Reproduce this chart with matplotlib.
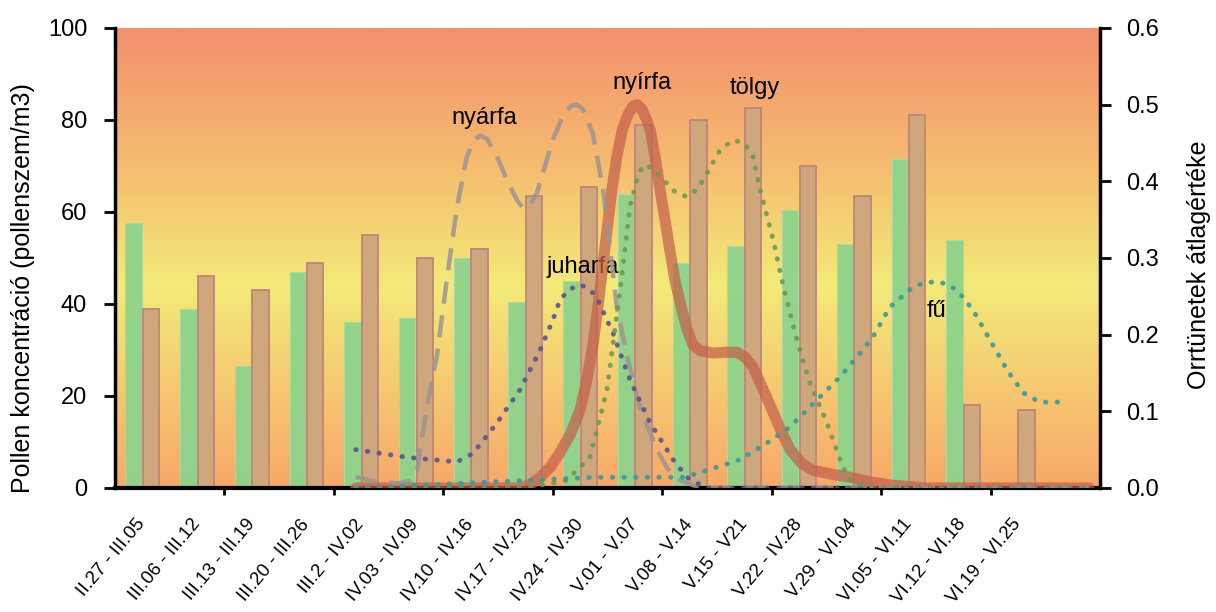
import numpy as np
import matplotlib
matplotlib.use("Agg")
import matplotlib.pyplot as plt
from matplotlib.colors import LinearSegmentedColormap

plt.rcParams['font.family'] = ['Liberation Sans', 'DejaVu Sans']

# ---------------- data ----------------
categories = ["II.27 - III.05", "III.06 - III.12", "III.13 - III.19", "III.20 - III.26",
              "III.2 - IV.02", "IV.03 - IV.09", "IV.10 - IV.16", "IV.17 - IV.23",
              "IV.24 - IV.30", "V.01 - V.07", "V.08 - V.14", "V.15 - V21",
              "V.22 - IV.28", "V.29 - VI.04", "VI.05 - VI.11", "VI.12 - VI.18",
              "VI.19 - VI.25"]
pollen_green = [57.5, 39, 26.5, 47, 36, 37, 50, 40.5, 45, 64, 49, 52.5, 60.5, 53, 71.5, 54, 0]
pollen_tan = [39, 46, 43, 49, 55, 50, 52, 63.5, 65.5, 79, 80, 82.5, 70, 63.5, 81, 18, 17]

left_ticks = [0, 20, 40, 60, 80, 100]
right_ticks = [0.0, 0.1, 0.2, 0.3, 0.4, 0.5, 0.6]

# symptom curves (x in category units, y on right axis)
nyarfa_x = [3.9, 4.3, 4.7, 4.9, 5.02, 5.2, 5.38, 5.57, 5.75, 5.93, 6.05, 6.17, 6.3, 6.48,
            6.72, 6.85, 6.96, 7.08, 7.21, 7.5, 7.7, 7.85, 7.94, 8.05, 8.23, 8.42, 8.55,
            8.67, 8.86, 9.09, 9.4, 9.6, 9.83, 10.2, 17.3]
nyarfa_y = [0.014, 0.008, 0.006, 0.01, 0.023, 0.106, 0.171, 0.275, 0.367, 0.432, 0.452,
            0.46, 0.455, 0.432, 0.393, 0.375, 0.365, 0.368, 0.385, 0.454, 0.488, 0.499,
            0.50, 0.494, 0.463, 0.389, 0.31, 0.236, 0.171, 0.106, 0.05, 0.025, 0.01, 0.0, 0.0]

juharfa_x = [3.9, 4.84, 5.75, 6.04, 6.48, 6.9, 7.27, 7.5, 7.63, 7.8, 8.0, 8.15, 8.3, 8.6,
             8.91, 9.28, 9.7, 9.95, 10.3, 17.3]
juharfa_y = [0.05, 0.04, 0.034, 0.045, 0.085, 0.128, 0.18, 0.219, 0.245, 0.259, 0.265,
             0.261, 0.249, 0.202, 0.141, 0.085, 0.037, 0.014, 0.0, 0.0]

nyirfa_x = [3.9, 6.9, 7.1, 7.27, 7.45, 7.63, 7.82, 8.0, 8.12, 8.24, 8.33, 8.42, 8.5, 8.58,
            8.67, 8.77, 8.88, 8.97, 9.04, 9.12, 9.2, 9.28, 9.37, 9.46, 9.55, 9.64, 9.73,
            9.83, 9.95, 10.06, 10.2, 10.43, 10.65, 10.87, 11.02, 11.16, 11.29, 11.41,
            11.53, 11.68, 11.84, 12.05, 12.26, 12.6, 12.93, 13.3, 13.66, 14.3, 17.3]
nyirfa_y = [0.0, 0.0, 0.005, 0.014, 0.027, 0.046, 0.07, 0.102, 0.14, 0.189, 0.24, 0.293,
            0.342, 0.389, 0.432, 0.467, 0.488, 0.498, 0.50, 0.495, 0.483, 0.467, 0.432,
            0.389, 0.35, 0.31, 0.272, 0.241, 0.207, 0.187, 0.179, 0.176, 0.177, 0.177,
            0.17, 0.158, 0.137, 0.118, 0.098, 0.073, 0.05, 0.032, 0.023, 0.018, 0.014,
            0.008, 0.004, 0.0, 0.0]

tolgy_x = [3.9, 7.0, 7.75, 8.18, 8.49, 8.73, 8.91, 9.05, 9.15, 9.3, 9.52, 9.75, 9.95, 10.15,
           10.32, 10.55, 10.79, 11.0, 11.16, 11.29, 11.53, 11.7, 11.96, 12.2, 12.51, 12.8,
           12.99, 13.5, 17.3]
tolgy_y = [0.0, 0.0, 0.01, 0.04, 0.128, 0.258, 0.367, 0.405, 0.421, 0.418, 0.402, 0.385,
           0.38, 0.39, 0.411, 0.44, 0.454, 0.45, 0.432, 0.389, 0.323, 0.267, 0.193, 0.137,
           0.085, 0.027, 0.006, 0.0, 0.0]

fu_x = [3.9, 8.3, 9.9, 10.32, 10.92, 11.4, 11.84, 12.33, 12.75, 13.06, 13.35, 13.66, 14.08,
        14.3, 14.52, 14.7, 14.89, 15.18, 15.49, 15.8, 16.1, 16.4, 16.9]
fu_y = [0.0, 0.014, 0.014, 0.023, 0.037, 0.058, 0.08, 0.115, 0.145, 0.171, 0.197, 0.236,
        0.262, 0.268, 0.269, 0.266, 0.258, 0.232, 0.193, 0.154, 0.124, 0.112, 0.112]

# ---------------- figure ----------------
W, H = 1216, 612
fig = plt.figure(figsize=(W / 100, H / 100), dpi=100)
fig.patch.set_facecolor('white')
ax = fig.add_axes([115 / W, (H - 488) / H, 985 / W, 460 / H])

xmin, xmax = -0.5, 17.5
grad = np.linspace(0, 1, 256).reshape(-1, 1)
bg = LinearSegmentedColormap.from_list(
    'bg', [(0.0, '#F8A869'), (0.2, '#F6C671'), (0.44, '#F3EA79'),
           (0.7, '#F6BC70'), (1.0, '#F3906E')])
ax.imshow(grad, cmap=bg, origin='lower', extent=(xmin, xmax, 0, 100),
          aspect='auto', zorder=0, interpolation='bilinear')

x = np.arange(len(categories))
w = 0.30
ax.bar(x - 0.01 - w, pollen_green, width=w, align='edge', color='#8FD38C',
       edgecolor='#A8DCA2', linewidth=0.8, alpha=0.95, zorder=2)
ax.bar(x + 0.01, pollen_tan, width=w, align='edge', color='#CFA77D',
       edgecolor='#C08479', linewidth=1.3, zorder=2)

ax.set_xlim(xmin, xmax)
ax.set_ylim(0, 100)
ax.set_yticks(left_ticks)
ax.tick_params(axis='y', length=8, width=2, direction='out', labelsize=17, pad=12)

ax.set_xticks(np.arange(1.5, 16, 2))
ax.set_xticklabels([])
ax.tick_params(axis='x', which='major', length=5, width=2, direction='out')
ax.set_xticks(x, minor=True)
ax.set_xticklabels(categories, minor=True, rotation=50, ha='right', va='center',
                   rotation_mode='anchor', fontsize=13.5,
                   family=['Liberation Sans Narrow', 'Liberation Sans', 'DejaVu Sans'])
ax.tick_params(axis='x', which='minor', length=0, pad=24)

for s in ['top', 'right']:
    ax.spines[s].set_visible(False)
ax.spines['left'].set_linewidth(2.5)
ax.spines['bottom'].set_linewidth(3)

ax2 = ax.twinx()
ax2.set_ylim(0, 0.6)
ax2.set_yticks(right_ticks)
ax2.set_yticklabels([f"{t:.1f}" for t in right_ticks])
ax2.tick_params(axis='y', length=8, width=2, direction='out', labelsize=17, pad=11)
for s in ['top', 'left', 'bottom']:
    ax2.spines[s].set_visible(False)
ax2.spines['right'].set_linewidth(2.5)

ax2.plot(nyirfa_x, nyirfa_y, color='#C4604C', lw=8, alpha=0.72,
         solid_capstyle='round', solid_joinstyle='round', zorder=3)
ax2.plot(nyarfa_x, nyarfa_y, color='#9C9590', lw=3.2, alpha=0.85,
         linestyle=(0, (5, 2.6)), zorder=4)
dot = (0, (0.1, 2.3))
ax2.plot(juharfa_x, juharfa_y, color='#5A5490', lw=3.5, alpha=0.9,
         linestyle=dot, dash_capstyle='round', zorder=4)
ax2.plot(tolgy_x, tolgy_y, color='#6E9A50', lw=3.5, alpha=0.9,
         linestyle=dot, dash_capstyle='round', zorder=4)
ax2.plot(fu_x, fu_y, color='#3C9A96', lw=3.5, alpha=0.9,
         linestyle=dot, dash_capstyle='round', zorder=4)

txt = dict(fontsize=17, ha='center', va='center', color='black', zorder=6)
ax.text(6.24, 80.5, 'nyárfa', **txt)
ax.text(8.05, 48, 'juharfa', **txt)
ax.text(9.13, 88, 'nyírfa', **txt)
ax.text(11.2, 87, 'tölgy', **txt)
ax.text(14.52, 38.5, 'fű', **txt)

fig.text(23 / W, 1 - 288 / H, 'Pollen koncentráció (pollenszem/m3)', rotation=90,
         ha='center', va='center', fontsize=18)
fig.text(1199 / W, 1 - 265 / H, 'Orrtünetek átlagértéke', rotation=90,
         ha='center', va='center', fontsize=18)

fig.savefig('out.png', dpi=100)
